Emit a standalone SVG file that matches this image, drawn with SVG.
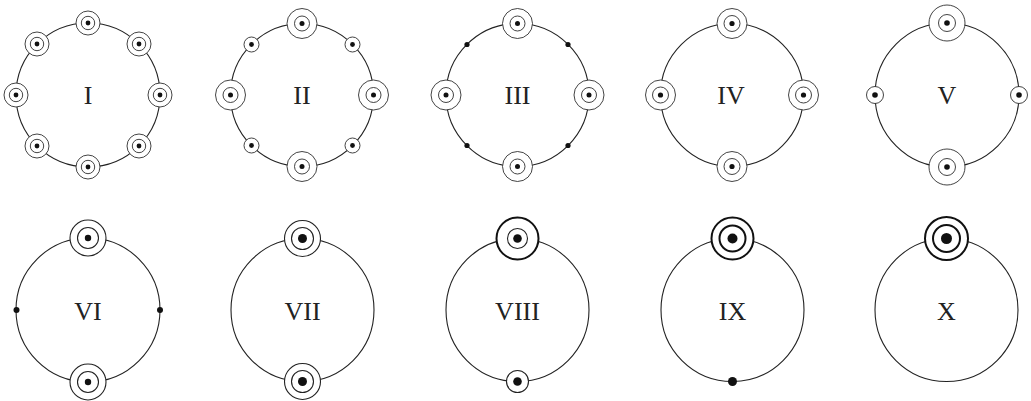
<svg xmlns="http://www.w3.org/2000/svg" width="1031" height="401" viewBox="0 0 1031 401">
<style>
.big{fill:none;stroke:#222;stroke-width:1.1}
.r{fill:#fff;stroke:#222;stroke-width:0.85}
.rb{fill:#fff;stroke:#222;stroke-width:1.1}
.rt{fill:#fff;stroke:#111;stroke-width:2}
.d{fill:#111}
.lbl{font-family:"Liberation Serif",serif;font-size:26px;fill:#222;text-anchor:middle}
</style>
<rect width="1031" height="401" fill="#fff"/>
<g id="connectors"></g>

<g id="I">
<circle class="big" cx="88" cy="95" r="72"/>
<g id="I-rings">
<circle class="r" cx="88" cy="23" r="12"/><circle class="r" cx="88" cy="23" r="6.7"/><circle class="d" cx="88" cy="23" r="2.4"/>
<circle class="r" cx="88" cy="167" r="12"/><circle class="r" cx="88" cy="167" r="6.7"/><circle class="d" cx="88" cy="167" r="2.4"/>
<circle class="r" cx="16" cy="95" r="12"/><circle class="r" cx="16" cy="95" r="6.7"/><circle class="d" cx="16" cy="95" r="2.4"/>
<circle class="r" cx="160" cy="95" r="12"/><circle class="r" cx="160" cy="95" r="6.7"/><circle class="d" cx="160" cy="95" r="2.4"/>
<circle class="r" cx="37" cy="44" r="12"/><circle class="r" cx="37" cy="44" r="6.7"/><circle class="d" cx="37" cy="44" r="2.4"/>
<circle class="r" cx="139" cy="44" r="12"/><circle class="r" cx="139" cy="44" r="6.7"/><circle class="d" cx="139" cy="44" r="2.4"/>
<circle class="r" cx="37" cy="146" r="12"/><circle class="r" cx="37" cy="146" r="6.7"/><circle class="d" cx="37" cy="146" r="2.4"/>
<circle class="r" cx="139" cy="146" r="12"/><circle class="r" cx="139" cy="146" r="6.7"/><circle class="d" cx="139" cy="146" r="2.4"/>
</g>
<text class="lbl" x="88" y="104">I</text>
</g>

<g id="II">
<circle class="big" cx="302" cy="95" r="71.5"/>
<circle class="r" cx="302" cy="23.5" r="15"/><circle class="r" cx="302" cy="23.5" r="7.5"/><circle class="d" cx="302" cy="23.5" r="2.5"/>
<circle class="r" cx="302" cy="166.5" r="15"/><circle class="r" cx="302" cy="166.5" r="7.5"/><circle class="d" cx="302" cy="166.5" r="2.5"/>
<circle class="r" cx="230.5" cy="95" r="15"/><circle class="r" cx="230.5" cy="95" r="7.5"/><circle class="d" cx="230.5" cy="95" r="2.5"/>
<circle class="r" cx="373.5" cy="95" r="15"/><circle class="r" cx="373.5" cy="95" r="7.5"/><circle class="d" cx="373.5" cy="95" r="2.5"/>
<circle class="r" cx="251.5" cy="44.5" r="7.5"/><circle class="d" cx="251.5" cy="44.5" r="2.4"/>
<circle class="r" cx="352.5" cy="44.5" r="7.5"/><circle class="d" cx="352.5" cy="44.5" r="2.4"/>
<circle class="r" cx="251.5" cy="145.5" r="7.5"/><circle class="d" cx="251.5" cy="145.5" r="2.4"/>
<circle class="r" cx="352.5" cy="145.5" r="7.5"/><circle class="d" cx="352.5" cy="145.5" r="2.4"/>
<text class="lbl" x="302" y="104">II</text>
</g>

<g id="III">
<circle class="big" cx="517.5" cy="95" r="71.5"/>
<circle class="r" cx="517.5" cy="23.5" r="15"/><circle class="r" cx="517.5" cy="23.5" r="7.5"/><circle class="d" cx="517.5" cy="23.5" r="2.5"/>
<circle class="r" cx="517.5" cy="166.5" r="15"/><circle class="r" cx="517.5" cy="166.5" r="7.5"/><circle class="d" cx="517.5" cy="166.5" r="2.5"/>
<circle class="r" cx="446" cy="95" r="15"/><circle class="r" cx="446" cy="95" r="7.5"/><circle class="d" cx="446" cy="95" r="2.5"/>
<circle class="r" cx="589" cy="95" r="15"/><circle class="r" cx="589" cy="95" r="7.5"/><circle class="d" cx="589" cy="95" r="2.5"/>
<circle class="d" cx="467" cy="44.5" r="2.6"/>
<circle class="d" cx="568" cy="44.5" r="2.6"/>
<circle class="d" cx="467" cy="145.5" r="2.6"/>
<circle class="d" cx="568" cy="145.5" r="2.6"/>
<text class="lbl" x="517.5" y="104">III</text>
</g>

<g id="IV">
<circle class="big" cx="732" cy="95" r="71.5"/>
<circle class="r" cx="732" cy="23.5" r="15"/><circle class="r" cx="732" cy="23.5" r="8"/><circle class="d" cx="732" cy="23.5" r="2.6"/>
<circle class="r" cx="732" cy="166.5" r="15"/><circle class="r" cx="732" cy="166.5" r="8"/><circle class="d" cx="732" cy="166.5" r="2.6"/>
<circle class="r" cx="660.5" cy="95" r="15"/><circle class="r" cx="660.5" cy="95" r="8"/><circle class="d" cx="660.5" cy="95" r="2.6"/>
<circle class="r" cx="803.5" cy="95" r="15"/><circle class="r" cx="803.5" cy="95" r="8"/><circle class="d" cx="803.5" cy="95" r="2.6"/>
<text class="lbl" x="731" y="104">IV</text>
</g>

<g id="V">
<circle class="big" cx="947" cy="95" r="72"/>
<circle class="r" cx="947" cy="23" r="18"/><circle class="r" cx="947" cy="23" r="8.5"/><circle class="d" cx="947" cy="23" r="2.8"/>
<circle class="r" cx="947" cy="167" r="18"/><circle class="r" cx="947" cy="167" r="8.5"/><circle class="d" cx="947" cy="167" r="2.8"/>
<circle class="r" cx="875" cy="95" r="8.5"/><circle class="d" cx="875" cy="95" r="2.8"/>
<circle class="r" cx="1019" cy="95" r="8.5"/><circle class="d" cx="1019" cy="95" r="2.8"/>
<text class="lbl" x="947" y="104">V</text>
</g>

<g id="VI">
<circle class="big" cx="88" cy="310" r="72"/>
<circle class="rb" cx="88" cy="238" r="18"/><circle class="rb" cx="88" cy="238" r="10.5"/><circle class="d" cx="88" cy="238" r="3.2"/>
<circle class="rb" cx="88" cy="382" r="18"/><circle class="rb" cx="88" cy="382" r="10.5"/><circle class="d" cx="88" cy="382" r="3.2"/>
<circle class="d" cx="16.5" cy="310" r="3"/>
<circle class="d" cx="160" cy="310" r="3"/>
<text class="lbl" x="88" y="320">VI</text>
</g>

<g id="VII">
<circle class="big" cx="302.5" cy="310" r="71.5"/>
<circle class="rb" cx="302.5" cy="238.5" r="18"/><circle class="rb" cx="302.5" cy="238.5" r="11"/><circle class="d" cx="302.5" cy="238.5" r="4.5"/>
<circle class="rb" cx="302.5" cy="381.5" r="18"/><circle class="rb" cx="302.5" cy="381.5" r="11"/><circle class="d" cx="302.5" cy="381.5" r="4.5"/>
<text class="lbl" x="302.5" y="320">VII</text>
</g>

<g id="VIII">
<circle class="big" cx="517.5" cy="310" r="71.5"/>
<circle class="rt" cx="517.5" cy="238.5" r="21"/><circle class="rb" cx="517.5" cy="238.5" r="10"/><circle class="d" cx="517.5" cy="238.5" r="4.3"/>
<circle class="rb" cx="517.5" cy="381.5" r="11"/><circle class="d" cx="517.5" cy="381.5" r="4.3"/>
<text class="lbl" x="517.5" y="320">VIII</text>
</g>

<g id="IX">
<circle class="big" cx="732.5" cy="310" r="71.5"/>
<circle class="rt" cx="732.5" cy="238.5" r="21"/><circle class="rt" cx="732.5" cy="238.5" r="13"/><circle class="d" cx="732.5" cy="238.5" r="5"/>
<circle class="d" cx="732.5" cy="381.5" r="4.5"/>
<text class="lbl" x="732.5" y="320">IX</text>
</g>

<g id="X">
<circle class="big" cx="946.5" cy="310" r="71.5"/>
<circle class="rt" cx="946.5" cy="238.5" r="21.5"/><circle class="rt" cx="946.5" cy="238.5" r="13.5"/><circle class="d" cx="946.5" cy="238.5" r="5.5"/>
<text class="lbl" x="946.5" y="320">X</text>
</g>
</svg>
